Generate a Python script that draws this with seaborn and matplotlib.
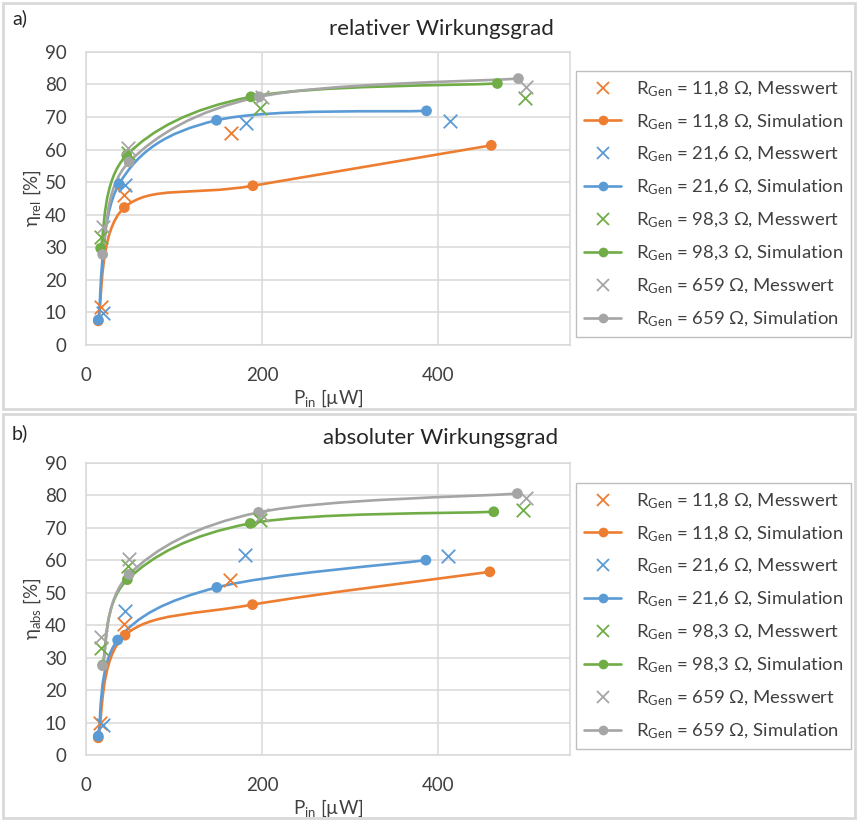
import numpy as np
import matplotlib
matplotlib.use("Agg")
import matplotlib.pyplot as plt
import seaborn as sns
from matplotlib.path import Path
from matplotlib.patches import PathPatch, Rectangle
from matplotlib.lines import Line2D

# --------------------------
# Data
# --------------------------
labels_r = ["11,8", "21,6", "98,3", "659"]
colors = ["#ED7D31", "#5B9BD5", "#70AD47", "#A5A5A5"]

# relativer Wirkungsgrad
rel_sim_x = [[14, 43.6, 189.7, 460.6], [14, 37.6, 148.4, 387],
             [16.7, 46.3, 187.5, 467.5], [19, 49, 197, 491.4]]
rel_sim_y = [[7.4, 42.2, 48.9, 61.3], [7.7, 49.4, 69.0, 71.9],
             [29.7, 58.3, 76.2, 80.3], [27.8, 56.2, 76.2, 81.8]]
rel_mess_x = [[16.7, 43.6, 165], [19, 44.4, 181.8, 413.6],
              [16.7, 48.2, 198, 498.6], [19, 48.2, 200, 500.5]]
rel_mess_y = [[11.7, 46.0, 65.1], [9.7, 49.1, 68.2, 68.8],
              [33.2, 58.8, 72.9, 75.7], [36.3, 60.6, 76.0, 79.2]]

# absoluter Wirkungsgrad
abs_sim_x = [[14, 44.4, 189.3, 459], [14, 36, 148.7, 386.3],
             [19, 47, 186.7, 463.4], [19, 49, 196.1, 490.2]]
abs_sim_y = [[5.3, 36.9, 46.3, 56.4], [5.8, 35.4, 51.6, 60.0],
             [27.7, 54.0, 71.3, 74.9], [27.5, 55.6, 74.7, 80.5]]
abs_mess_x = [[16, 43.6, 164], [19, 44.4, 180.2, 411.6],
              [16.7, 48.2, 198, 496.7], [16.7, 49.3, 200, 500.5]]
abs_mess_y = [[9.8, 40.3, 53.8], [9.2, 44.4, 61.5, 61.2],
              [32.8, 58.1, 72.3, 75.4], [36.4, 60.2, 74.0, 79.0]]

# --------------------------
# Style
# --------------------------
sns.set_theme(style="white")
plt.rcParams['font.family'] = ['Lato', 'DejaVu Sans']
plt.rcParams['mathtext.fontset'] = 'custom'
plt.rcParams['mathtext.rm'] = 'Lato'
plt.rcParams['mathtext.it'] = 'Lato:italic'
grid_c = "#D9D9D9"
text_c = "#404040"


def smooth_path(xs, ys):
    # Excel-like smoothed line (cubic Bezier through the points)
    pts = np.column_stack([xs, ys]).astype(float)
    n = len(pts)
    verts = [pts[0]]
    codes = [Path.MOVETO]
    for i in range(n - 1):
        p0 = pts[i - 1] if i > 0 else pts[i]
        p1, p2 = pts[i], pts[i + 1]
        p3 = pts[i + 2] if i + 2 < n else pts[i + 1]
        verts += [p1 + (p2 - p0) / 6, p2 - (p3 - p1) / 6, p2]
        codes += [Path.CURVE4] * 3
    return Path(verts, codes)


def draw_panel(ax, sim_x, sim_y, mess_x, mess_y, ylabel):
    for i in range(4):
        ax.add_patch(PathPatch(smooth_path(sim_x[i], sim_y[i]), fill=False,
                               edgecolor=colors[i], lw=1.9, zorder=3))
        sns.scatterplot(x=sim_x[i], y=sim_y[i], color=colors[i], marker='o',
                        s=60, edgecolor='none', ax=ax, zorder=4)
        sns.scatterplot(x=mess_x[i], y=mess_y[i], color=colors[i], marker='x',
                        s=95, linewidth=1.3, ax=ax, zorder=5)
    ax.set_xlim(0, 550)
    ax.set_ylim(0, 90)
    ax.set_xticks([0, 200, 400])
    ax.set_yticks(range(0, 91, 10))
    ax.grid(True, color=grid_c, lw=1.1)
    ax.set_axisbelow(True)
    for s in ax.spines.values():
        s.set_color(grid_c)
        s.set_linewidth(1.1)
    ax.tick_params(axis='both', length=0, labelsize=13.5, colors=text_c)
    ax.tick_params(axis='x', pad=16)
    ax.tick_params(axis='y', pad=14)
    ax.set_xlabel(r"P$_{\mathrm{in}}$ [µW]", fontsize=13.5, color=text_c, labelpad=2)
    ax.set_ylabel(ylabel, fontsize=13.5, color=text_c, labelpad=1)

    handles = []
    names = []
    for i in range(4):
        handles.append(Line2D([], [], color=colors[i], marker='x', ls='none',
                              markersize=9, markeredgewidth=1.3))
        names.append(r"R$_{\mathrm{Gen}}$ = " + labels_r[i] + " Ω, Messwert")
        handles.append(Line2D([], [], color=colors[i], marker='o', lw=1.9,
                              markersize=7, markeredgewidth=0))
        names.append(r"R$_{\mathrm{Gen}}$ = " + labels_r[i] + " Ω, Simulation")
    return handles, names


fig = plt.figure(figsize=(8.58, 8.21), dpi=100)
ax1 = fig.add_axes([0.1002, 0.5798, 0.5641, 0.357])
ax2 = fig.add_axes([0.1002, 0.0804, 0.5641, 0.356])

h1, n1 = draw_panel(ax1, rel_sim_x, rel_sim_y, rel_mess_x, rel_mess_y,
                    r"η$_{\mathrm{rel}}$ [%]")
h2, n2 = draw_panel(ax2, abs_sim_x, abs_sim_y, abs_mess_x, abs_mess_y,
                    r"η$_{\mathrm{abs}}$ [%]")

for hh, nn, ypos in [(h1, n1, 1 - 71 / 821), (h2, n2, 1 - 483 / 821)]:
    leg = fig.legend(hh, nn, loc='upper left', bbox_to_anchor=(576 / 858, ypos),
                     fontsize=13.3, frameon=True, fancybox=False, framealpha=1,
                     edgecolor="#BFBFBF", handlelength=2.0, labelspacing=0.73,
                     borderpad=0.45, handletextpad=0.8, borderaxespad=0)
    leg.get_frame().set_linewidth(1.0)
    for t in leg.get_texts():
        t.set_color(text_c)

# panel frames, titles and panel letters
fig.add_artist(Rectangle((3 / 858, 1 - 409 / 821), 852 / 858, 406 / 821,
                         transform=fig.transFigure, fill=False, ec=grid_c, lw=2))
fig.add_artist(Rectangle((3 / 858, 1 - 818 / 821), 852 / 858, 404 / 821,
                         transform=fig.transFigure, fill=False, ec=grid_c, lw=2))
fig.text(441 / 858, 1 - 29 / 821, "relativer Wirkungsgrad", fontsize=16,
         color="#262626", ha='center', va='center')
fig.text(441 / 858, 1 - 438 / 821, "absoluter Wirkungsgrad", fontsize=16,
         color="#262626", ha='center', va='center')
fig.text(12 / 858, 1 - 18 / 821, "a)", fontsize=14, color="#262626", va='center')
fig.text(12 / 858, 1 - 433 / 821, "b)", fontsize=14, color="#262626", va='center')

fig.savefig("out.png", dpi=100)
